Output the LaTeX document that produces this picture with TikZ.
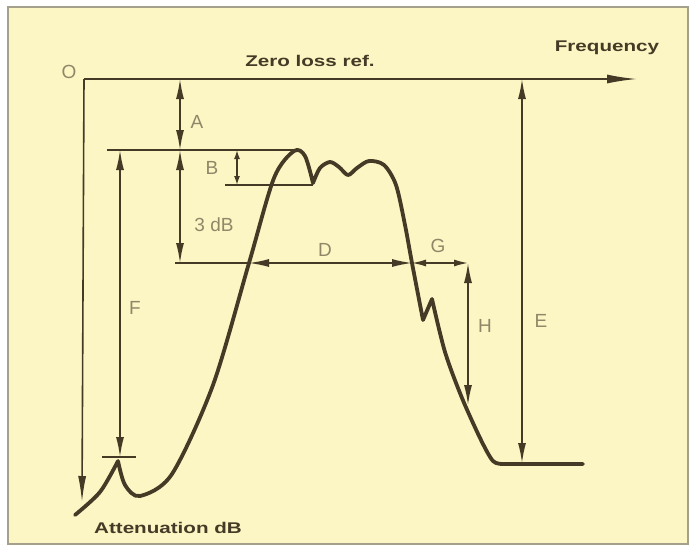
\documentclass[tikz,border=0pt]{standalone}
\usepackage{fontspec}
\setmainfont{Liberation Sans}
\newfontfamily\headfont[FakeStretch=1.33]{Liberation Sans}
\usetikzlibrary{arrows.meta}
\definecolor{paper}{RGB}{251,246,196}
\definecolor{ink}{RGB}{68,58,38}
\definecolor{lblgray}{RGB}{145,135,104}
\definecolor{framegray}{RGB}{165,160,140}

\begin{document}
\begin{tikzpicture}[x=1pt, y=-1pt,
  dimline/.style={ink, line width=1.5pt},
  dimarr/.style={dimline, {Latex[length=20pt,width=8pt]}-{Latex[length=20pt,width=8pt]}},
  shortarr/.style={dimline, {Latex[length=14pt,width=7pt]}-{Latex[length=14pt,width=7pt]}},
  tinyarr/.style={dimline, {Latex[length=9pt,width=6pt]}-{Latex[length=9pt,width=6pt]}},
  lbl/.style={lblgray, font=\fontsize{19}{20}\selectfont, inner sep=0pt},
  head/.style={ink, font=\headfont\bfseries\fontsize{15.5}{17}\selectfont, inner sep=0pt},
  curve/.style={ink, line width=3.8pt, line join=round, line cap=round}]
  \useasboundingbox (0,0) rectangle (697,547);
  % paper and frame
  \draw[framegray, line width=2pt, fill=paper] (8,7) rectangle (688,544);
  % reference points
  \coordinate (orig) at (84,79);
  \coordinate (freqend) at (637,79);
  \coordinate (attend) at (82,502);
  \coordinate (atop) at (180,79);
  \coordinate (peakref) at (180,150);
  \coordinate (pass3) at (180,263);
  \coordinate (refl) at (107,150);
  \coordinate (refr) at (294,150);
  \coordinate (btop) at (237,150);
  \coordinate (bbot) at (237,185);
  \coordinate (rippl) at (225,185);
  \coordinate (rippr) at (313,185);
  \coordinate (cutl) at (175,263);
  \coordinate (edgel) at (249,263);
  \coordinate (edger) at (412,263);
  \coordinate (corner) at (468,263);
  \coordinate (hbot) at (468,405);
  \coordinate (etop) at (522,79);
  \coordinate (ebot) at (522,463);
  \coordinate (ftop) at (120,150);
  \coordinate (fbot) at (120,457);
  \coordinate (tickl) at (102,457);
  \coordinate (tickr) at (136,457);
  % axes
  \draw[ink, line width=1.8pt, -{Latex[length=30pt,width=9pt]}] (orig) -- (freqend);
  \draw[ink, line width=1.6pt, -{Latex[length=26pt,width=8pt]}] (orig) -- (attend);
  % reference lines
  \draw[dimline] (refl) -- (refr);
  \draw[dimline] (rippl) -- (rippr);
  \draw[dimline] (cutl) -- (edgel);
  \draw[dimline] (tickl) -- (tickr);
  % dimensions
  \draw[dimarr] (atop) -- (peakref);
  \draw[dimarr] (peakref) -- (pass3);
  \draw[tinyarr] (btop) -- (bbot);
  \draw[dimarr] (edgel) -- (edger);
  \draw[shortarr] (edger) -- (corner);
  \draw[dimarr] (corner) -- (hbot);
  \draw[dimarr] (etop) -- (ebot);
  \draw[dimarr] (ftop) -- (fbot);
  % filter response
  \draw[curve] plot[smooth] coordinates {(75,515) (100,492) (118,461)}
    -- plot[smooth] coordinates {(118,461) (125,485) (140,496) (172,474)
       (213,385) (249,263) (274,178) (294,151) (305,156) (313,183)}
    -- plot[smooth] coordinates {(313,183) (320,168) (330,162) (339,167) (348,175)
       (357,168) (369,161) (384,165) (396,185) (405,225) (412,263) (423,320)}
    -- (432,299)
    -- plot[smooth] coordinates {(432,299) (445,352) (462,398) (481,440)
       (493,461) (503,464)}
    -- (583,464);
  % labels
  \node[lbl] (olbl) at (69,72) {O};
  \node[lbl] (albl) at (197,122) {A};
  \node[lbl] (blbl) at (212,168) {B};
  \node[lbl] (dblbl) at (214,225) {3 dB};
  \node[lbl] (dlbl) at (325,250) {D};
  \node[lbl] (glbl) at (438,246) {G};
  \node[lbl] (hlbl) at (485,326) {H};
  \node[lbl] (elbl) at (541,321) {E};
  \node[lbl] (flbl) at (135,308) {F};
  \node[head] (zero) at (310,61) {Zero loss ref.};
  \node[head] (freq) at (607,48) {Frequency};
  \node[head] (atten) at (168,528) {Attenuation dB};
\end{tikzpicture}
\end{document}
